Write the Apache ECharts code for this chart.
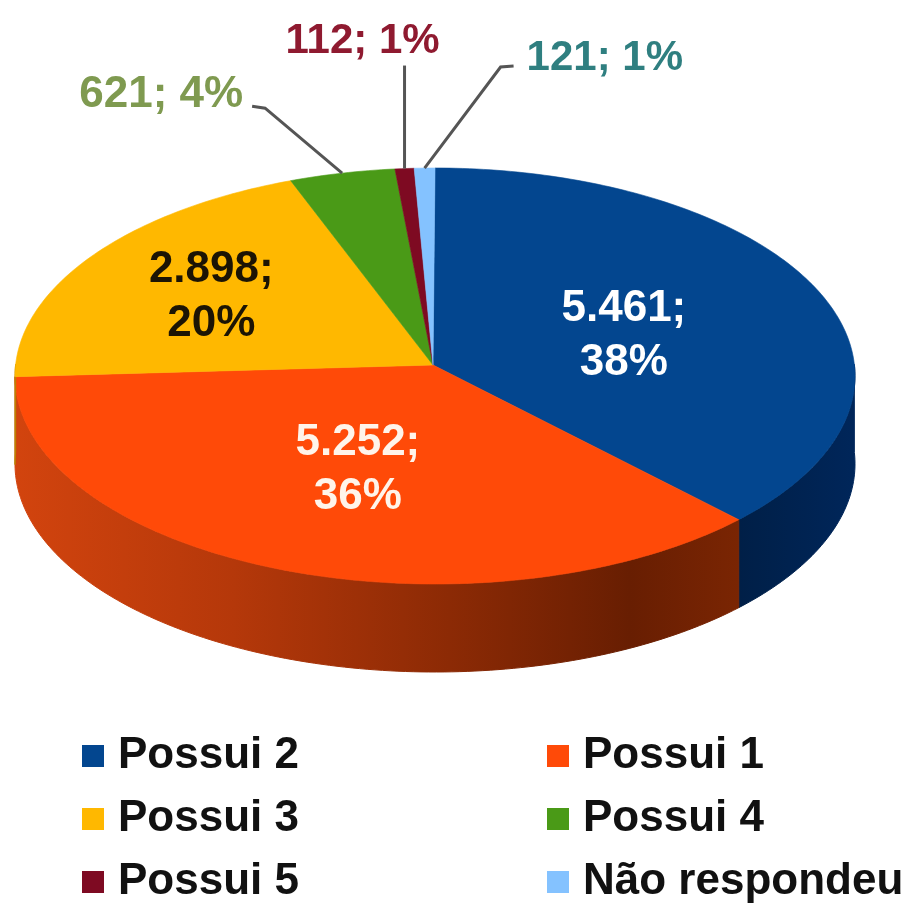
<!DOCTYPE html>
<html>
<head>
<meta charset="utf-8">
<style>html,body{margin:0;padding:0;background:#fff}#c{width:910px;height:904px;filter:blur(0.7px)}</style>
<script src="https://cdn.jsdelivr.net/npm/echarts@6/dist/echarts.min.js"></script>
</head>
<body>
<div id="c"></div>
<script>
const categories = ['Possui 2', 'Possui 1', 'Possui 3', 'Possui 4', 'Possui 5', 'Não respondeu'];
const values = [5461, 5252, 2898, 621, 112, 121];
const valueTexts = ['5.461', '5.252', '2.898', '621', '112', '121'];
const shareTexts = ['38%', '36%', '20%', '4%', '1%', '1%'];
const legendLeft = ['Possui 2', 'Possui 3', 'Possui 5'];
const legendRight = ['Possui 1', 'Possui 4', 'Não respondeu'];

const colors = ['#03468f', '#ff4a08', '#ffb800', '#4a9a17', '#7e0a22', '#84c2ff'];
const sideStops = [
  [[0, '#001f47'], [1, '#00265a']],
  [[0, '#d2440e'], [0.3, '#b5380a'], [0.6, '#8c2a05'], [0.85, '#681e02'], [1, '#7a2503']],
  [[0, '#b98500'], [1, '#b98500']],
  null, null, null
];
const FONT = '"Liberation Sans", Arial, sans-serif';
const pie = { cx: 435, cy: 376, rx: 420, ry: 208, apexY: 365, depth: 88, warp: 3.2 };
const inner = {
  0: { r: 0.47, dx: 12, dy: 12, fill: '#ffffff' },
  1: { r: 0.50, dx: 5, dy: 9, fill: '#fff4ea' },
  2: { r: 0.63, dx: -6, dy: 8, fill: '#1c1404' }
};
const outer = {
  3: { fill: '#7f9a50', fontSize: 44, path: [[-77, -65], [-90, -67]], label: [-99, -78], align: 'right' },
  4: { fill: '#8f1a30', fontSize: 42, path: [[0, -103]], label: [-42, -127], align: 'center' },
  5: { fill: '#2f7f80', fontSize: 42, path: [[76, -101], [89, -102]], label: [102, -110], align: 'left' }
};

const total = values.reduce((a, b) => a + b, 0);
const rad = d => d * Math.PI / 180;
const warped = t => t - pie.warp * Math.sin(rad(t));
const rim = (t, dy) => {
  const w = rad(warped(t));
  return [pie.cx + pie.rx * Math.sin(w), pie.cy + (dy || 0) - pie.ry * Math.cos(w)];
};
const arc = (a, b, dy) => {
  const pts = [];
  const n = Math.max(2, Math.ceil(Math.abs(b - a)));
  for (let i = 0; i <= n; i++) pts.push(rim(a + (b - a) * i / n, dy));
  return pts;
};
const cumulative = values.map((_, i) => values.slice(0, i).reduce((a, b) => a + b, 0));

function renderSlice(idx) {
  return function (params, api) {
    const v = api.value(0);
    const a = cumulative[idx] / total * 360;
    const b = a + v / total * 360;
    const apex = [pie.cx - 2, pie.apexY];
    const children = [];
    const sa = Math.max(a, 90), sb = Math.min(b, 270);
    if (sb > sa && sideStops[idx]) {
      const poly = arc(sa, sb, 0).concat(arc(sa, sb, pie.depth).reverse());
      const xs = poly.map(p => p[0]);
      const fill = new echarts.graphic.LinearGradient(Math.min(...xs), 0, Math.max(...xs), 0,
        sideStops[idx].map(s => ({ offset: s[0], color: s[1] })), true);
      children.push({ type: 'polygon', shape: { points: poly }, style: { fill, stroke: fill, lineWidth: 1 } });
    }
    const face = [apex].concat(arc(a, b, 0));
    children.push({ type: 'polygon', shape: { points: face }, style: { fill: colors[idx], stroke: colors[idx], lineWidth: 0.6 } });
    const mid = (a + b) / 2;
    const w = rad(warped(mid));
    if (inner[idx]) {
      const cfg = inner[idx];
      children.push({
        type: 'text', z2: 10,
        style: {
          text: valueTexts[idx] + ';\n' + shareTexts[idx],
          x: apex[0] + pie.rx * cfg.r * Math.sin(w) + cfg.dx,
          y: apex[1] - pie.ry * cfg.r * Math.cos(w) + cfg.dy,
          align: 'center', verticalAlign: 'middle',
          fill: cfg.fill, fontSize: 44, fontWeight: 'bold', fontFamily: FONT, lineHeight: 54
        }
      });
    } else {
      const cfg = outer[idx];
      const p0 = rim(mid, 0);
      const pts = [p0].concat(cfg.path.map(d => [p0[0] + d[0], p0[1] + d[1]]));
      children.push({ type: 'polyline', z2: 9, shape: { points: pts }, style: { stroke: '#555555', lineWidth: 3, fill: null } });
      children.push({
        type: 'text', z2: 10,
        style: {
          text: valueTexts[idx] + '; ' + shareTexts[idx],
          x: p0[0] + cfg.label[0], y: p0[1] + cfg.label[1],
          align: cfg.align, verticalAlign: 'middle',
          fill: cfg.fill, fontSize: cfg.fontSize, fontWeight: 'bold', fontFamily: FONT
        }
      });
    }
    return { type: 'group', children };
  };
}

const legendBase = {
  orient: 'vertical', top: 734, itemWidth: 22, itemHeight: 22, itemGap: 19, icon: 'rect',
  selectedMode: false,
  textStyle: { fontSize: 44, fontWeight: 'bold', fontFamily: FONT, color: '#111', padding: [0, 0, 0, 9], lineHeight: 44 }
};

const chart = echarts.init(document.getElementById('c'), null, { renderer: 'canvas' });
chart.setOption({
  animation: false,
  backgroundColor: '#ffffff',
  legend: [
    Object.assign({}, legendBase, { left: 82, padding: 0, data: legendLeft }),
    Object.assign({}, legendBase, { left: 547, padding: 0, data: legendRight })
  ],
  series: categories.map((name, i) => ({
    type: 'custom', name, coordinateSystem: 'none',
    itemStyle: { color: colors[i] },
    data: [[values[i]]],
    renderItem: renderSlice(i),
    silent: true
  }))
});
</script>
</body>
</html>
